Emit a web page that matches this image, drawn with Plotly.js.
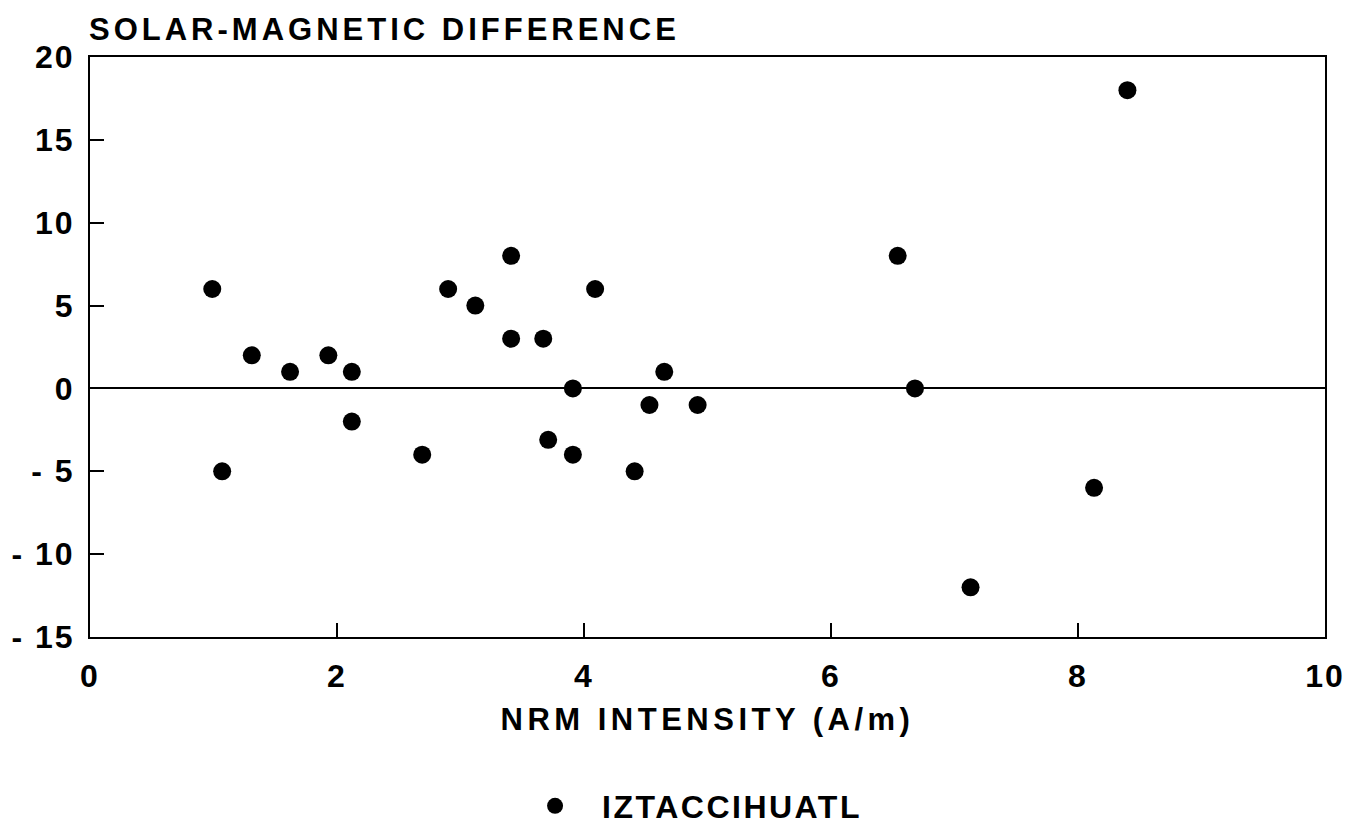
<!DOCTYPE html>
<html>
<head>
<meta charset="utf-8">
<script src="https://cdn.plot.ly/plotly-3.0.1.min.js"></script>
<style>
html,body{margin:0;padding:0;background:#fff;}
#chart{width:1347px;height:828px;}
svg text{letter-spacing:2.5px;}
#chart .gtitle{letter-spacing:4px;}
#chart .xtitle{letter-spacing:4.5px;}
#chart .xtick text, #chart .ytick text{letter-spacing:2px;}
#chart .legendtext{letter-spacing:2.5px;}
</style>
</head>
<body>
<div id="chart"></div>
<script>
const nrmIntensity = [0.99, 1.07, 1.31, 1.62, 1.93, 2.12, 2.12, 2.69, 2.90, 3.12, 3.41, 3.41, 3.67, 3.71, 3.91, 3.91, 4.09, 4.41, 4.53, 4.65, 4.92, 6.54, 6.68, 7.13, 8.13, 8.40];
const solarMagDiff = [6, -5, 2, 1, 2, 1, -2, -4, 6, 5, 8, 3, 3, -3.1, 0, -4, 6, -5, -1, 1, -1, 8, 0, -12, -6, 18];
const seriesName = 'IZTACCIHUATL';
const xTicks = [0, 2, 4, 6, 8, 10];
const yTicks = [-15, -10, -5, 0, 5, 10, 15, 20];
const yTickText = ['- 15', '- 10', '- 5', '0', '5', '10', '15', '20'];

const font = "'Liberation Sans', Arial, Helvetica, sans-serif";

const trace = {
  x: nrmIntensity,
  y: solarMagDiff,
  type: 'scatter',
  mode: 'markers',
  name: '<b>' + seriesName + '</b>',
  marker: {color: '#000', size: 18, line: {width: 0}}
};

const layout = {
  width: 1347, height: 828,
  paper_bgcolor: '#fff', plot_bgcolor: '#fff',
  margin: {l: 90, r: 22, t: 57, b: 191},
  font: {family: font, color: '#000', size: 30},
  title: {
    text: '<b>SOLAR-MAGNETIC DIFFERENCE</b>',
    x: 89/1347, xref: 'container', xanchor: 'left',
    y: 1 - 29/828, yref: 'container', yanchor: 'middle',
    font: {family: font, size: 31, color: '#000'}
  },
  xaxis: {
    range: [0, 10], tickvals: xTicks, ticktext: xTicks.map(v => '<b>' + v + '</b>'),
    ticks: 'inside', ticklen: 14, tickwidth: 2, tickcolor: '#000',
    showline: true, linecolor: '#000', linewidth: 2, mirror: true,
    showgrid: false, zeroline: false,
    tickfont: {size: 32}, ticklabelstandoff: 10,
    title: {text: '<b>NRM INTENSITY (A/m)</b>', font: {size: 31}, standoff: 15}
  },
  yaxis: {
    range: [-15, 20], tickvals: yTicks, ticktext: yTickText.map(v => '<b>' + v + '</b>'),
    ticks: 'inside', ticklen: 14, tickwidth: 2, tickcolor: '#000',
    showline: true, linecolor: '#000', linewidth: 2, mirror: true,
    showgrid: false, zeroline: true, zerolinecolor: '#000', zerolinewidth: 2,
    tickfont: {size: 32}, ticklabelstandoff: 7
  },
  showlegend: true,
  legend: {
    x: 0.3385, xanchor: 'left', y: 1 - 806/828, yref: 'container', yanchor: 'middle',
    orientation: 'h', font: {size: 32}, bgcolor: 'rgba(0,0,0,0)',
    itemsizing: 'trace', itemwidth: 84
  }
};

Plotly.newPlot('chart', [trace], layout, {displayModeBar: false, staticPlot: true});
</script>
</body>
</html>
